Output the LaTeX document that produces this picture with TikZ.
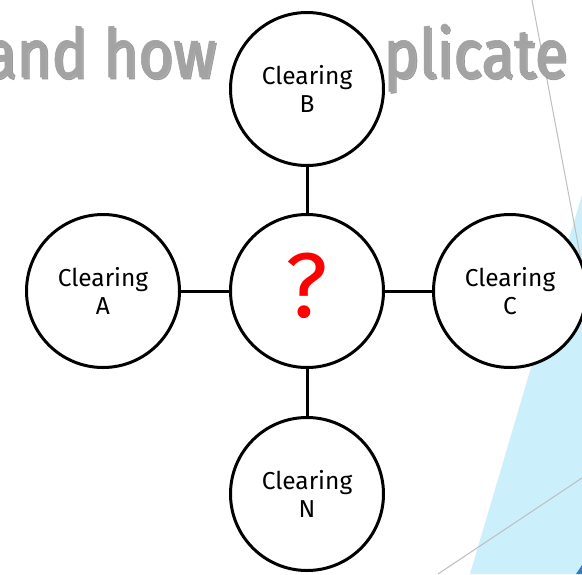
\documentclass[tikz,border=0pt]{standalone}
\usepackage{fontspec}
\setmainfont{Fira Sans}
\newfontfamily\titlefont[FakeBold=1.0]{Fira Sans}
\newcommand{\titlestr}[1]{\scalebox{0.88}[1]{#1}}
\begin{document}
\begin{tikzpicture}[x=1pt,y=-1pt,
  bubble/.style={circle,draw=black,line width=3pt,fill=white,minimum size=153pt,inner sep=0pt,align=center,
     font=\fontsize{24.5}{28}\selectfont},
  link/.style={line width=3pt,draw=black},
  deco/.style={draw=black!25,line width=1pt},
  titletext/.style={text=black!36,inner sep=0pt,font=\titlefont\fontsize{68}{70}\selectfont},
  titleshadow/.style={text=black!55,inner sep=0pt,font=\titlefont\fontsize{68}{70}\selectfont,opacity=0.6}]
\clip (0,0) rectangle (582,574);
\fill[white] (0,0) rectangle (582,574);
% background slide decorations
\fill[cyan!20!white] (582,195) -- (470,574) -- (582,574) -- cycle;
\fill[blue!50!cyan!70!black!80] (576,574) -- (582,565) -- (582,574) -- cycle;
\draw[deco] (532,0) -- (598,350);
\draw[deco] (438,574) -- (600,466);
% title
\node[titleshadow,anchor=base east] at (218,79) {\titlestr{and how}};
\node[titletext,anchor=base east] (t1) at (216,77) {\titlestr{and how}};
\node[titleshadow,anchor=base west] at (385,79) {\titlestr{plicate}};
\node[titletext,anchor=base west] (t2) at (383,77) {\titlestr{plicate}};
% bubbles
\node[bubble] (c) at (307,291) {};
\node[text=red,font=\fontsize{92}{92}\selectfont] (q) at (307,286) {?};
\node[bubble] (b) at (307,89) {Clearing\\B};
\node[bubble] (a) at (103,291) {Clearing\\A};
\node[bubble] (cc) at (510,291) {Clearing\\C};
\node[bubble] (n) at (307,494) {Clearing\\N};
\draw[link] (c) -- (b);
\draw[link] (c) -- (a);
\draw[link] (c) -- (cc);
\draw[link] (c) -- (n);
\end{tikzpicture}
\end{document}
